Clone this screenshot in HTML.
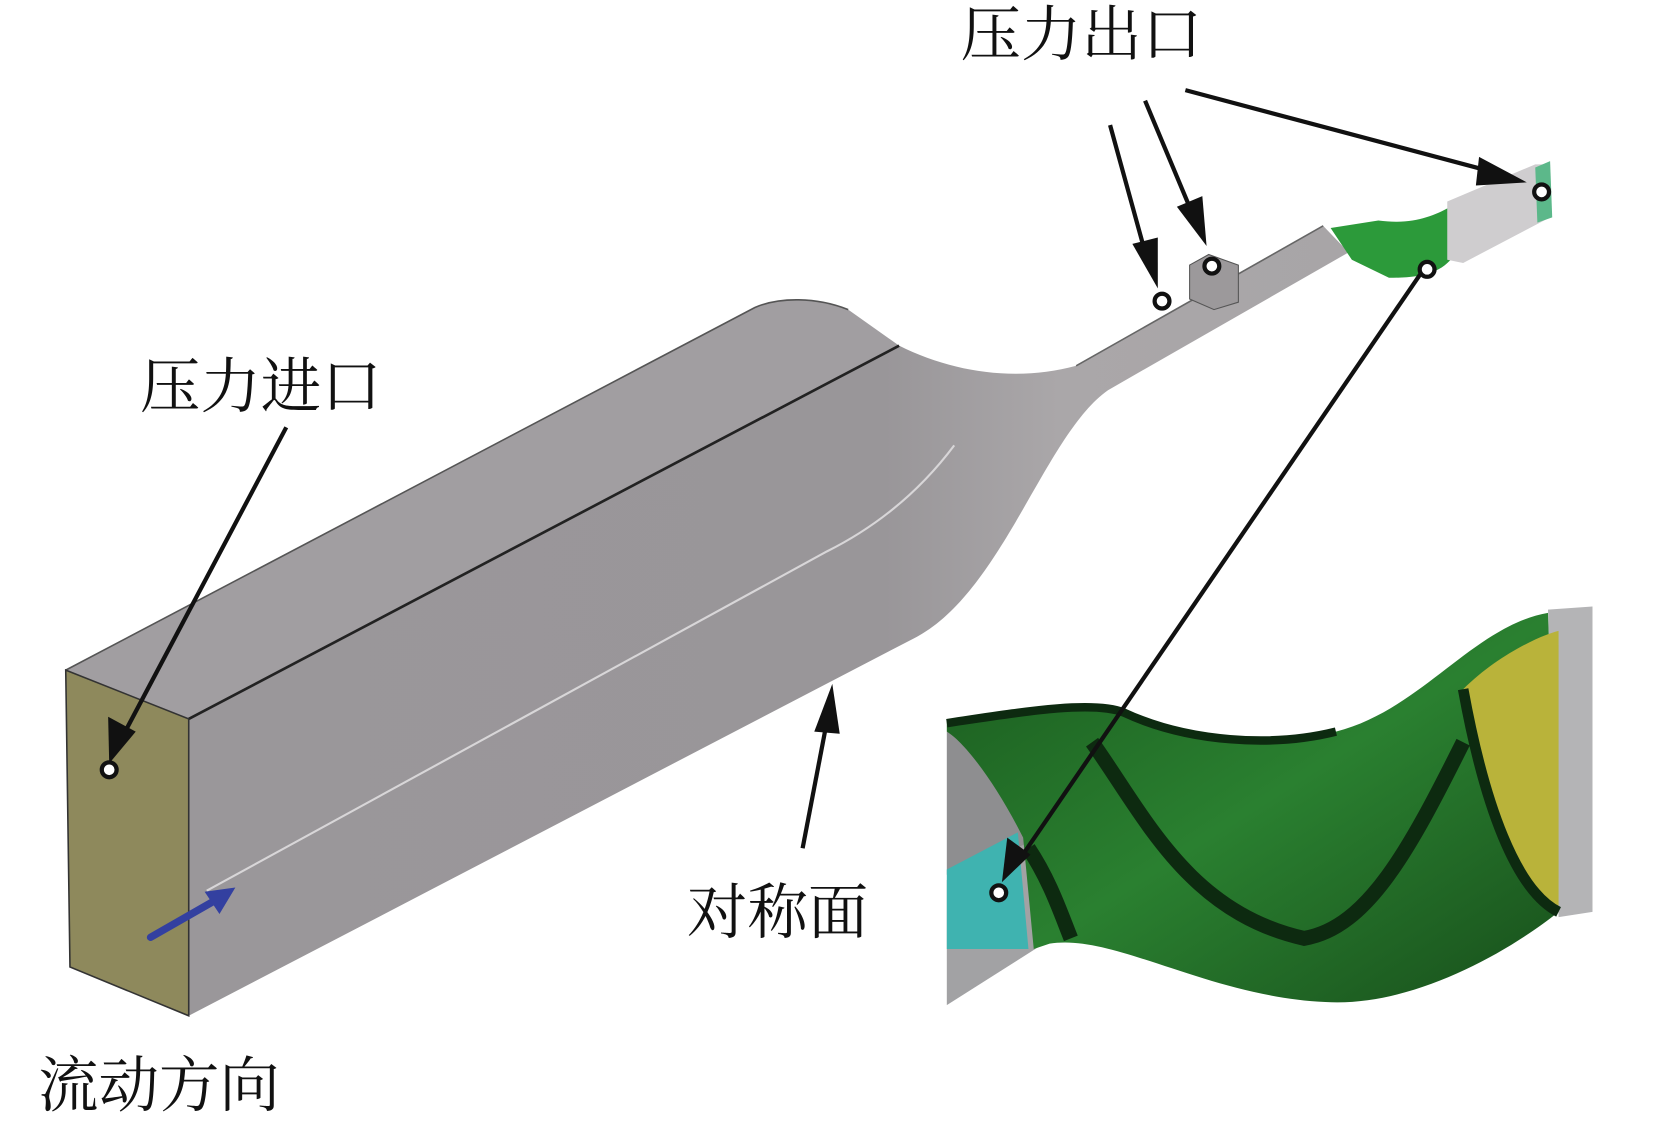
<!DOCTYPE html>
<html><head><meta charset="utf-8"><style>
html,body{margin:0;padding:0;background:#fff;}
svg{display:block;}
text{font-family:"Liberation Serif","Noto Serif CJK SC",serif;fill:#111;}
</style></head><body>
<svg width="1654" height="1125" viewBox="0 0 1560 1061" preserveAspectRatio="none" xmlns="http://www.w3.org/2000/svg">
<defs>
<linearGradient id="side" x1="0" y1="0" x2="1" y2="0">
<stop offset="0" stop-color="#9a979a"/><stop offset="0.6" stop-color="#999699"/><stop offset="0.75" stop-color="#aaa7a9"/><stop offset="1" stop-color="#a8a5a7"/>
</linearGradient>
<linearGradient id="grn" x1="0" y1="0" x2="1" y2="1">
<stop offset="0" stop-color="#1a5a1e"/><stop offset="0.5" stop-color="#2a8030"/><stop offset="1" stop-color="#184f1b"/>
</linearGradient>
</defs>
<path d="M62,632 L712,290 C735,280 770,280 800,292 L848,326 L178,678 Z" fill="#a19ea1"/>
<path d="M178,678 L848,326 C900,352 960,360 1015,345 L1248,213 L1272,238 L1045,368 C985,410 945,560 862,602 L178,958 Z" fill="url(#side)"/>
<path d="M178,678 L848,326" stroke="#222" stroke-width="2.5" fill="none"/>
<path d="M62,632 L712,290 C735,280 770,280 800,292" stroke="#555" stroke-width="1.5" fill="none"/>
<path d="M195,840 L780,520 C830,495 870,460 900,420" stroke="#d8d6d8" stroke-width="2" fill="none"/>
<path d="M1015,345 L1248,213" stroke="#666" stroke-width="1.5" fill="none"/>
<path d="M62,632 L178,678 L178,958 L66,912 Z" fill="#8e895c" stroke="#333" stroke-width="1.5"/>
<path d="M142,884 L205,848" stroke="#3340a0" stroke-width="7" stroke-linecap="round"/>
<path d="M222,837 L193,841 L207,862 Z" fill="#3340a0"/>
<path d="M1122,250 L1140,240 L1168,250 L1168,285 L1145,292 L1122,282 Z" fill="#9c999b" stroke="#555"/>
<path d="M1255,215 L1300,208 C1330,212 1350,205 1368,195 L1372,240 C1360,258 1340,262 1310,262 L1275,245 Z" fill="#2c9a3a"/>
<path d="M1365,190 L1448,155 L1462,155 L1462,205 L1380,248 L1365,245 Z" fill="#cfcdcf"/>
<path d="M1448,158 L1462,152 L1464,205 L1450,210 Z" fill="#5cb88a"/>
<!-- inset -->
<path d="M1460,575 L1502,572 L1502,860 L1470,865 Z" fill="#b4b4b6"/>
<path d="M893,690 L1030,760 L1030,790 L960,800 L893,825 Z" fill="#8e8e90"/>
<path d="M893,830 L980,790 L1000,880 L893,948 Z" fill="#a2a2a4"/>
<path d="M893,820 L960,785 L970,895 L893,895 Z" fill="#3fb3b0"/>
<path d="M893,680 C960,672 1030,660 1060,672 C1120,700 1200,705 1260,690 C1340,670 1390,590 1460,578 L1470,860 C1420,900 1330,950 1250,945 C1140,940 1050,880 990,890 L975,895 L965,790 C940,740 910,700 893,690 Z" fill="url(#grn)"/>
<path d="M1380,650 C1410,620 1450,600 1470,595 L1470,860 C1430,840 1400,760 1380,650 Z" fill="#b9b33a"/>
<path d="M1380,650 C1400,760 1430,840 1470,860" stroke="#0d2a10" stroke-width="10" fill="none"/>
<path d="M1030,700 C1080,770 1120,860 1230,885 C1290,875 1330,800 1380,700" stroke="#0d2a10" stroke-width="14" fill="none"/>
<path d="M893,682 C960,672 1030,660 1060,672 C1120,700 1200,705 1260,690" stroke="#0d2a10" stroke-width="8" fill="none"/>
<path d="M970,800 C990,830 1000,860 1010,885" stroke="#0d2a10" stroke-width="14" fill="none"/>
<g stroke="#111" stroke-width="4" fill="none">
<path d="M270,403 L118,690"/>
<path d="M757,800 L780,680"/>
<path d="M1047,118 L1082,245"/>
<path d="M1080,95 L1124,200"/>
<path d="M1118,85 L1400,160"/>
<path d="M1340,258 L962,810"/>
</g>
<g fill="#111">
<path d="M103,720 L102,676 L128,690 Z"/>
<path d="M785,645 L768,690 L792,692 Z"/>
<path d="M1092,272 L1068,230 L1092,224 Z"/>
<path d="M1138,232 L1110,195 L1134,185 Z"/>
<path d="M1440,172 L1395,148 L1392,175 Z"/>
<path d="M945,832 L950,790 L972,806 Z"/>
</g>
<g fill="#fff" stroke="#111" stroke-width="4">
<circle cx="103" cy="726" r="7"/>
<circle cx="1096" cy="284" r="7"/>
<circle cx="1143" cy="251" r="7"/>
<circle cx="1454" cy="181" r="7"/>
<circle cx="1346" cy="254" r="7"/>
<circle cx="942" cy="842" r="7"/>
</g>
<text x="906" y="52" font-size="57">压力出口</text>
<text x="132" y="384" font-size="57">压力进口</text>
<text x="648" y="880" font-size="57">对称面</text>
<text x="36" y="1043" font-size="57">流动方向</text>
</svg>
</body></html>
